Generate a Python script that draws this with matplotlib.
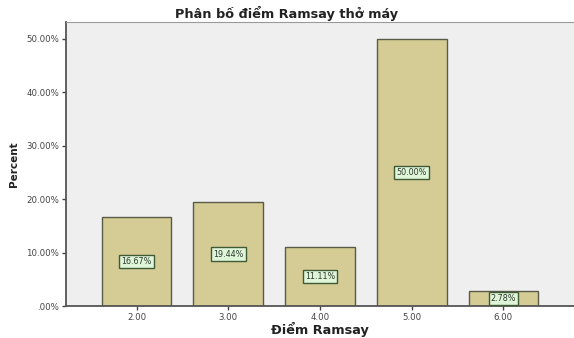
import matplotlib
matplotlib.use("Agg")
import matplotlib.pyplot as plt
from matplotlib.ticker import FuncFormatter

# Ramsay sedation score distribution for ventilated patients
scores = [2.0, 3.0, 4.0, 5.0, 6.0]
percents = [16.67, 19.44, 11.11, 50.00, 2.78]
score_labels = ["2.00", "3.00", "4.00", "5.00", "6.00"]
y_ticks = [0, 10, 20, 30, 40, 50]

fig = plt.figure(figsize=(5.74, 3.38), dpi=100)
ax = fig.add_axes([66 / 574, 32 / 338, 508 / 574, 284 / 338])
ax.set_facecolor("#efeff0")

ax.bar(scores, percents, width=0.76, color="#d4cc94", edgecolor="#5a5a48",
       linewidth=1.0, zorder=2)

for x, v in zip(scores, percents):
    ax.text(x, v / 2, f"{v:.2f}%", ha="center", va="center", fontsize=5.8,
            color="#2f3a2f", zorder=3,
            bbox=dict(boxstyle="square,pad=0.25", facecolor="#dff5d8",
                      edgecolor="#3f5a35", linewidth=1.0))

ax.set_xlim(1.23, 6.77)
ax.set_ylim(0, 53.1)
ax.set_xticks(scores)
ax.set_xticklabels(score_labels)
ax.set_yticks(y_ticks)
ax.yaxis.set_major_formatter(FuncFormatter(
    lambda v, _: ".00%" if v == 0 else f"{v:.2f}%"))
ax.tick_params(axis="both", labelsize=6.2, colors="#444444", length=3,
               width=1.0, pad=2)

for side in ("left", "bottom"):
    ax.spines[side].set_color("#555555")
    ax.spines[side].set_linewidth(1.3)
ax.spines["top"].set_color("#9a9a9a")
ax.spines["right"].set_visible(False)

ax.set_title("Phân bố điểm Ramsay thở máy", fontsize=9.3, fontweight="bold",
             color="#222222", pad=3, x=0.435)
ax.set_xlabel("Điểm Ramsay", fontsize=9.3, fontweight="bold", color="#222222",
              labelpad=0)
ax.set_ylabel("Percent", fontsize=7.5, fontweight="bold", color="#222222",
              labelpad=5, fontfamily="DejaVu Sans Condensed")

fig.savefig("out.png", dpi=100)
